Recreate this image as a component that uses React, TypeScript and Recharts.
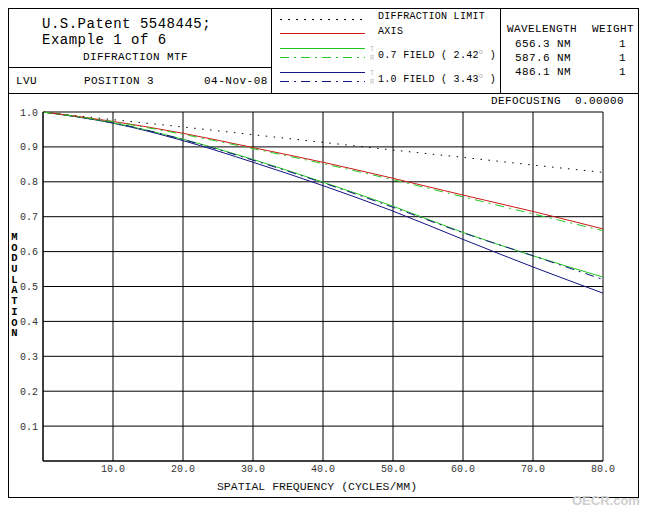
import React from "react";
import { LineChart, Line, XAxis, YAxis, CartesianGrid, Legend } from "recharts";

// spatial frequency samples (cycles/mm)
const freq = [0, 10, 20, 30, 40, 50, 60, 70, 80];

// MTF values per curve
const diffractionLimit = [1.0, 0.978, 0.957, 0.935, 0.913, 0.891, 0.87, 0.848, 0.827];
const axisMtf = [1.0, 0.973, 0.939, 0.898, 0.856, 0.81, 0.762, 0.715, 0.665];
const field07T = [1.0, 0.969, 0.922, 0.864, 0.799, 0.73, 0.655, 0.588, 0.527];
const field07R = [1.0, 0.972, 0.936, 0.895, 0.852, 0.806, 0.757, 0.708, 0.66];
const field10T = [1.0, 0.968, 0.918, 0.856, 0.789, 0.716, 0.635, 0.556, 0.481];
const field10R = [1.0, 0.969, 0.921, 0.862, 0.797, 0.727, 0.654, 0.588, 0.52];

const xTicks = [10, 20, 30, 40, 50, 60, 70, 80];
const yTicks = [0.1, 0.2, 0.3, 0.4, 0.5, 0.6, 0.7, 0.8, 0.9, 1.0];

const wavelengths = ["656.3 NM", "587.6 NM", "486.1 NM"];
const weights = ["1", "1", "1"];

const data = freq.map((f, i) => ({
  freq: f,
  diff: diffractionLimit[i],
  axis: axisMtf[i],
  f07t: field07T[i],
  f07r: field07R[i],
  f10t: field10T[i],
  f10r: field10R[i],
}));

const MONO = "'Liberation Mono', 'DejaVu Sans Mono', monospace";
const RED = "#d01818";
const GREEN = "#22c822";
const BLUE = "#141482";
const DOTS = "1.5 6.5";
const DASHDOT = "9 5 2 5";

function Txt({
  x,
  y,
  size = 11,
  spacing = 0.4,
  color = "#000",
  right,
  children,
}: {
  x: number;
  y: number;
  size?: number;
  spacing?: number;
  color?: string;
  right?: boolean;
  children: React.ReactNode;
}) {
  return (
    <div
      style={{
        position: "absolute",
        left: right ? undefined : x,
        right: right ? 649 - x : undefined,
        top: y - size / 2,
        fontFamily: MONO,
        fontSize: size,
        lineHeight: `${size}px`,
        letterSpacing: spacing,
        color,
        whiteSpace: "pre",
      }}
    >
      {children}
    </div>
  );
}

function Rule({ x, y, w, h }: { x: number; y: number; w: number; h: number }) {
  return <div style={{ position: "absolute", left: x, top: y, width: w, height: h, background: "#000" }} />;
}

// legend box in the header: sample strokes + field labels
function MtfLegend() {
  const sample = (y: number, color: string, dash?: string) => (
    <line
      x1={9}
      x2={94}
      y1={y + 0.5}
      y2={y + 0.5}
      stroke={color}
      strokeWidth={1}
      strokeDasharray={dash}
      shapeRendering="crispEdges"
    />
  );
  const tr = (y: number, t: string) => (
    <text x={99} y={y + 3} fontSize={7} fontFamily={MONO} fill="#bbb">
      {t}
    </text>
  );
  const deg = <span style={{ fontSize: 7, color: "#aaa", verticalAlign: "super" }}>o</span>;
  const row = (y: number, content: React.ReactNode) => (
    <div
      style={{
        position: "absolute",
        left: 107,
        top: y - 5,
        fontFamily: MONO,
        fontSize: 10,
        lineHeight: "10px",
        letterSpacing: 0.3,
        whiteSpace: "pre",
        color: "#000",
      }}
    >
      {content}
    </div>
  );
  return (
    <div style={{ position: "relative", width: 229, height: 85 }}>
      <svg width={229} height={85} style={{ position: "absolute", left: 0, top: 0 }}>
        {sample(11, "#000", DOTS)}
        {sample(25, RED)}
        {sample(40, GREEN)}
        {sample(49, GREEN, DASHDOT)}
        {sample(64, BLUE)}
        {sample(73, BLUE, DASHDOT)}
        {tr(40, "T")}
        {tr(49, "R")}
        {tr(64, "T")}
        {tr(73, "R")}
      </svg>
      {row(9, "DIFFRACTION LIMIT")}
      {row(24, "AXIS")}
      {row(44, <>0.7 FIELD ( 2.42{deg} )</>)}
      {row(68, <>1.0 FIELD ( 3.43{deg} )</>)}
    </div>
  );
}

export default function App() {
  return (
    <div style={{ position: "absolute", left: 0, top: 0, width: 649, height: 512, background: "#fff" }}>
      {/* outer frame and header dividers */}
      <div
        style={{
          position: "absolute",
          left: 8,
          top: 8,
          width: 631,
          height: 490,
          border: "1px solid #000",
          boxSizing: "border-box",
        }}
      />
      <Rule x={271} y={8} w={1} h={86} />
      <Rule x={500} y={8} w={1} h={86} />
      <Rule x={8} y={67} w={264} h={1} />
      <Rule x={8} y={93} w={631} h={1} />

      <Txt x={42} y={24} size={14} spacing={0.5}>U.S.Patent 5548445;</Txt>
      <Txt x={42} y={40} size={14} spacing={0.5}>Example 1 of 6</Txt>
      <Txt x={83} y={57} size={11} spacing={0.4}>DIFFRACTION MTF</Txt>
      <Txt x={16} y={81}>LVU</Txt>
      <Txt x={84} y={81}>POSITION 3</Txt>
      <Txt x={204} y={81} size={11} spacing={0.5}>04-Nov-08</Txt>

      <Txt x={507} y={29}>WAVELENGTH</Txt>
      <Txt x={592} y={29}>WEIGHT</Txt>
      {wavelengths.map((w, i) => (
        <Txt key={w} x={515} y={44 + i * 14}>
          {w}
        </Txt>
      ))}
      {weights.map((w, i) => (
        <Txt key={i} x={619} y={44 + i * 14}>
          {w}
        </Txt>
      ))}
      <Txt x={624} y={101} right>DEFOCUSING  0.00000</Txt>

      {/* stacked y-axis title */}
      <div
        style={{
          position: "absolute",
          left: 10,
          top: 232,
          width: 9,
          fontFamily: MONO,
          fontSize: 10.5,
          fontWeight: "bold",
          lineHeight: "10.7px",
          textAlign: "center",
          color: "#000",
        }}
      >
        {"MODULATION".split("").map((c, i) => (
          <div key={i} style={{ height: 10.7 }}>
            {c}
          </div>
        ))}
      </div>

      <div
        style={{
          position: "absolute",
          left: 572,
          top: 493,
          fontFamily: "'Liberation Sans', Arial, sans-serif",
          fontSize: 13,
          fontWeight: "bold",
          color: "#cfcfcf",
          whiteSpace: "pre",
        }}
      >
        OECR.com
      </div>

      <div style={{ position: "absolute", left: 0, top: 0 }}>
        <LineChart width={649} height={512} data={data} margin={{ top: 112, right: 46, bottom: 21, left: 0 }}>
          <CartesianGrid stroke="#000" strokeWidth={1} />
          <XAxis
            dataKey="freq"
            type="number"
            domain={[0, 80]}
            ticks={xTicks}
            tickFormatter={(v: number) => v.toFixed(1)}
            axisLine={{ stroke: "#000" }}
            tickLine={false}
            tickSize={2}
            tickMargin={2}
            height={30}
            tick={{ fill: "#333", fontSize: 10, fontFamily: MONO }}
            label={{
              value: "SPATIAL FREQUENCY (CYCLES/MM)",
              position: "insideBottom",
              offset: 1,
              dx: -6,
              fill: "#111",
              fontSize: 11.5,
              fontFamily: MONO,
            }}
          />
          <YAxis
            type="number"
            domain={[0, 1]}
            ticks={yTicks}
            tickFormatter={(v: number) => v.toFixed(1)}
            axisLine={{ stroke: "#000" }}
            tickLine={false}
            tickSize={3}
            tickMargin={2}
            width={43}
            tick={{ fill: "#333", fontSize: 10, fontFamily: MONO }}
          />
          <Legend
            content={<MtfLegend />}
            layout="horizontal"
            verticalAlign="middle"
            align="center"
            wrapperStyle={{ left: 271, top: 8, width: 229, height: 85 }}
          />
          <Line type="monotone" dataKey="diff" stroke="#000" strokeDasharray={DOTS} strokeWidth={1} dot={false} isAnimationActive={false} />
          <Line type="monotone" dataKey="f10t" stroke={BLUE} strokeWidth={1} dot={false} isAnimationActive={false} />
          <Line type="monotone" dataKey="f07t" stroke={GREEN} strokeWidth={1} dot={false} isAnimationActive={false} />
          <Line type="monotone" dataKey="f10r" stroke={BLUE} strokeDasharray={DASHDOT} strokeWidth={1} dot={false} isAnimationActive={false} />
          <Line type="monotone" dataKey="axis" stroke={RED} strokeWidth={1} dot={false} isAnimationActive={false} />
          <Line type="monotone" dataKey="f07r" stroke={GREEN} strokeDasharray={DASHDOT} strokeWidth={1} dot={false} isAnimationActive={false} />
        </LineChart>
      </div>
    </div>
  );
}
